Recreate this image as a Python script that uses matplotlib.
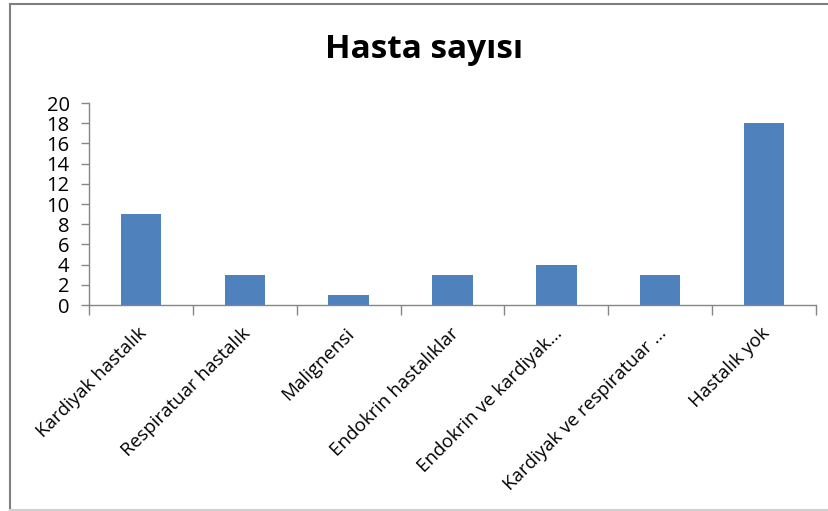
import matplotlib.pyplot as plt
from matplotlib.lines import Line2D

categories = ["Kardiyak hastalık", "Respiratuar hastalık", "Malignensi",
              "Endokrin hastalıklar", "Endokrin ve kardiyak…",
              "Kardiyak ve respiratuar …", "Hastalık yok"]
values = [9, 3, 1, 3, 4, 3, 18]
y_ticks = list(range(0, 21, 2))

plt.rcParams['font.family'] = ['Open Sans', 'DejaVu Sans']

W, H = 829, 511
fig = plt.figure(figsize=(W / 100, H / 100), dpi=100)
ax = fig.add_axes([89 / W, 1 - 305 / H, (816 - 89) / W, (305 - 103) / H])

bar_color = "#4F81BD"
axis_color = "#868686"
x = list(range(len(categories)))
ax.bar(x, values, width=0.39, color=bar_color, zorder=2)

ax.set_xlim(-0.5, len(categories) - 0.5)
ax.set_ylim(0, 20)
ax.set_yticks(y_ticks)
ax.set_yticklabels([str(t) for t in y_ticks], fontsize=14.5)

# category boundary ticks below the axis
ax.set_xticks([i - 0.5 for i in range(len(categories) + 1)])
ax.set_xticklabels([])
ax.tick_params(axis='x', direction='out', length=7, color=axis_color, width=1)
ax.tick_params(axis='y', direction='out', length=6, color=axis_color, width=1, pad=8)

for i, name in enumerate(categories):
    ax.text(i - 0.03, -1.9, name, rotation=45, rotation_mode='anchor',
            ha='right', va='top', fontsize=13.5, transform=ax.transData)

for side in ['top', 'right']:
    ax.spines[side].set_visible(False)
for side in ['left', 'bottom']:
    ax.spines[side].set_color(axis_color)
    ax.spines[side].set_linewidth(1)

fig.text(424 / W, 1 - 50 / H, "Hasta sayısı", ha='center', va='center',
         fontsize=24, fontweight='bold')

# outer chart frame
fx0, fy0, fy1 = 10 / W, 1 - 4 / H, 1 - 510 / H
fig.add_artist(Line2D([fx0, 1.0], [fy0, fy0], color="#7f7f7f", lw=1.5,
                      transform=fig.transFigure))
fig.add_artist(Line2D([fx0, fx0], [fy0, fy1], color="#7f7f7f", lw=1.5,
                      transform=fig.transFigure))
fig.add_artist(Line2D([fx0, 1.0], [fy1, fy1], color="#d0d0d0", lw=1.5,
                      transform=fig.transFigure))

fig.savefig("out.png", dpi=100)
